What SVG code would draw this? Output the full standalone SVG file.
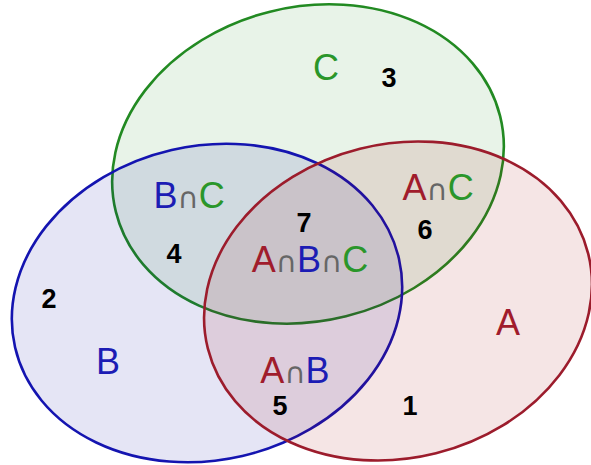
<svg xmlns="http://www.w3.org/2000/svg" width="591" height="465" viewBox="0 0 591 465">
  <style>
    .set { stroke-width: 2.6; }
    .lbl { font-family: "Liberation Sans", "Open Sans", sans-serif; font-size: 36px; }
    .cap { font-family: "DejaVu Sans", sans-serif; font-size: 29px; fill: #666666; }
    .num { font-family: "Liberation Sans", "Open Sans", sans-serif; font-size: 27px; font-weight: bold; fill: #000000; }
    .ra { fill: #a01c2c; }
    .rb { fill: #1c1cb4; }
    .rc { fill: #2a962a; }
  </style>

  <rect width="591" height="465" fill="#ffffff"/>

  <!-- set C (green, top) -->
  <g id="set-c">
    <ellipse class="set" cx="308" cy="164" rx="198" ry="157" transform="rotate(-14 308 164)" fill="#1a8a1a" fill-opacity="0.1" stroke="#228a22"/>
    <text class="lbl rc" x="326" y="80" text-anchor="middle">C</text>
  </g>

  <!-- set B (blue, left) -->
  <g id="set-b">
    <ellipse class="set" cx="207" cy="303" rx="197" ry="157" transform="rotate(-13 207 303)" fill="#0000a0" fill-opacity="0.1" stroke="#1414b0"/>
    <text class="lbl rb" x="108" y="374" text-anchor="middle">B</text>
  </g>

  <!-- set A (red, right) -->
  <g id="set-a">
    <ellipse class="set" cx="398" cy="301" rx="196" ry="157" transform="rotate(-14 398 301)" fill="#a00000" fill-opacity="0.1" stroke="#9c1c2c"/>
    <text class="lbl ra" x="508" y="335" text-anchor="middle">A</text>
  </g>

  <!-- intersection labels -->
  <g id="b-and-c">
    <text class="lbl" x="189" y="208" text-anchor="middle"><tspan class="rb">B</tspan><tspan class="cap">∩</tspan><tspan class="rc">C</tspan></text>
  </g>
  <g id="a-and-c">
    <text class="lbl" x="438" y="200" text-anchor="middle"><tspan class="ra">A</tspan><tspan class="cap">∩</tspan><tspan class="rc">C</tspan></text>
  </g>
  <g id="a-and-b">
    <text class="lbl" x="295" y="383" text-anchor="middle"><tspan class="ra">A</tspan><tspan class="cap">∩</tspan><tspan class="rb">B</tspan></text>
  </g>
  <g id="a-and-b-and-c">
    <text class="lbl" x="310" y="272" text-anchor="middle"><tspan class="ra">A</tspan><tspan class="cap">∩</tspan><tspan class="rb">B</tspan><tspan class="cap">∩</tspan><tspan class="rc">C</tspan></text>
  </g>

  <!-- region numbers -->
  <g id="region-numbers">
    <text class="num" x="410" y="415" text-anchor="middle">1</text>
    <text class="num" x="49" y="308" text-anchor="middle">2</text>
    <text class="num" x="389" y="87" text-anchor="middle">3</text>
    <text class="num" x="174" y="263" text-anchor="middle">4</text>
    <text class="num" x="280" y="415" text-anchor="middle">5</text>
    <text class="num" x="425" y="239" text-anchor="middle">6</text>
    <text class="num" x="304" y="232" text-anchor="middle">7</text>
  </g>
</svg>
